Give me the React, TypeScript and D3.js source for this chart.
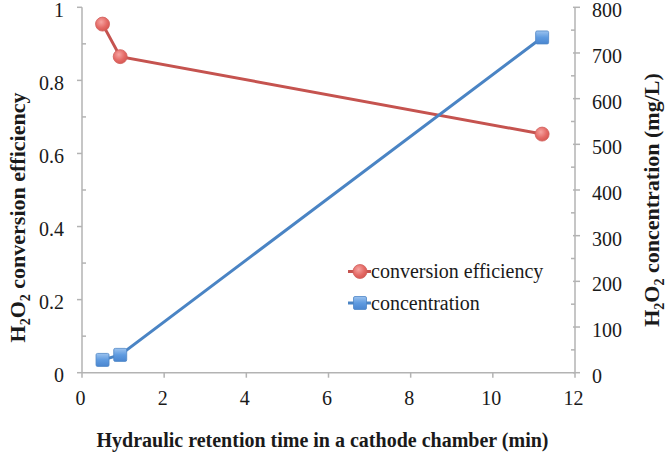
import * as d3 from "d3";

const hrt = [0.5, 0.93, 11.2];
const efficiency = [0.954, 0.865, 0.653];
const concentration = [28, 39, 734];

const leftTicks = [0, 0.2, 0.4, 0.6, 0.8, 1];
const leftMinor = [0.1, 0.3, 0.5, 0.7, 0.9];
const rightTicks = [0, 100, 200, 300, 400, 500, 600, 700, 800];
const rightMinor = [50, 150, 250, 350, 450, 550, 650, 750];
const xTicks = [0, 2, 4, 6, 8, 10, 12];

const seriesNames = ["conversion efficiency", "concentration"];

const W = 666;
const H = 457;
const font = "Liberation Serif";
const axisColor = "#b3b3b3";
const redLine = "#c5534f";
const blueLine = "#4a84c4";

export default function App() {
  const x = d3.scaleLinear().domain([0, 12]).range([82, 575]);
  const yL = d3.scaleLinear().domain([0, 1]).range([372.7, 7.3]);
  const yR = d3.scaleLinear().domain([0, 800]).range([372.7, 7.3]);

  const effData = hrt.map((h, i) => [h, efficiency[i]] as [number, number]);
  const concData = hrt.map((h, i) => [h, concentration[i]] as [number, number]);

  const effLine = d3.line<[number, number]>().x(d => x(d[0])).y(d => yL(d[1]));
  const concLine = d3.line<[number, number]>().x(d => x(d[0])).y(d => yR(d[1]));

  const x0 = x.range()[0];
  const x1 = x.range()[1];
  const yBase = yL.range()[0];

  const circle = (cx: number, cy: number, key: string) => (
    <circle key={key} cx={cx} cy={cy} r={7} fill="url(#redGrad)" stroke="#d0605c" strokeWidth={0.8} />
  );
  const square = (cx: number, cy: number, key: string) => (
    <rect key={key} x={cx - 6.5} y={cy - 6.5} width={13} height={13} rx={1.5} fill="url(#blueGrad)" stroke="#4f86c6" strokeWidth={0.8} />
  );

  const txt = { fontFamily: font, fill: "#1a1a1a" };
  const reg = { ...txt, fontWeight: 400, fontSize: 20 };

  return (
    <svg width={W} height={H} style={{ position: "absolute", left: 0, top: 0, background: "#fff" }}>
      <defs>
        <radialGradient id="redGrad" cx="40%" cy="35%" r="70%">
          <stop offset="0%" stopColor="#f6a4a1" />
          <stop offset="60%" stopColor="#e46a66" />
          <stop offset="100%" stopColor="#d4554f" />
        </radialGradient>
        <linearGradient id="blueGrad" x1="0" y1="0" x2="0" y2="1">
          <stop offset="0%" stopColor="#9cc3ef" />
          <stop offset="50%" stopColor="#5f9be0" />
          <stop offset="100%" stopColor="#4a86d0" />
        </linearGradient>
      </defs>

      {/* axes */}
      <g stroke={axisColor} strokeWidth={1.5}>
        <line x1={x0} x2={x0} y1={yL.range()[1]} y2={yBase} />
        <line x1={x1} x2={x1} y1={yR.range()[1]} y2={yBase} />
        <line x1={x0} x2={x1} y1={yBase} y2={yBase} />
        {leftTicks.map(t => (
          <line key={"lt" + t} x1={x0 - 5} x2={x0} y1={yL(t)} y2={yL(t)} />
        ))}
        {leftMinor.map(t => (
          <line key={"lm" + t} x1={x0} x2={x0 + 4} y1={yL(t)} y2={yL(t)} />
        ))}
        {rightTicks.map(t => (
          <line key={"rt" + t} x1={x1 - 2} x2={x1 + 5} y1={yR(t)} y2={yR(t)} />
        ))}
        {rightMinor.map(t => (
          <line key={"rm" + t} x1={x1 - 4} x2={x1} y1={yR(t)} y2={yR(t)} />
        ))}
        {xTicks.map(t => (
          <line key={"xt" + t} x1={x(t)} x2={x(t)} y1={yBase} y2={yBase + 5} />
        ))}
      </g>

      {/* tick labels */}
      {leftTicks.map(t => (
        <text key={"ll" + t} {...reg} x={64} y={yL(t) + 9.5} textAnchor="end">
          {d3.format("~g")(t)}
        </text>
      ))}
      {rightTicks.map(t => (
        <text key={"rl" + t} {...reg} x={592} y={yR(t) + 10} textAnchor="start">
          {t}
        </text>
      ))}
      {xTicks.map(t => (
        <text key={"xl" + t} {...reg} x={x(t) - 1.5} y={405} textAnchor="middle">
          {t}
        </text>
      ))}

      {/* series */}
      <path d={effLine(effData) ?? ""} fill="none" stroke={redLine} strokeWidth={3} />
      <path d={concLine(concData) ?? ""} fill="none" stroke={blueLine} strokeWidth={3} />
      {effData.map((d, i) => circle(x(d[0]), yL(d[1]), "c" + i))}
      {concData.map((d, i) => square(x(d[0]), yR(d[1]), "s" + i))}

      {/* legend */}
      <line x1={348} x2={371} y1={271.5} y2={271.5} stroke={redLine} strokeWidth={3} />
      {circle(360, 271.5, "lc")}
      <text {...reg} x={371} y={278}>{seriesNames[0]}</text>
      <line x1={348} x2={371} y1={303} y2={303} stroke={blueLine} strokeWidth={3} />
      {square(360, 303, "ls")}
      <text {...reg} x={371} y={309.5}>{seriesNames[1]}</text>

      {/* axis titles */}
      <text {...txt} fontSize={20} fontWeight="bold" x={322.5} y={447} textAnchor="middle">
        Hydraulic retention time in a cathode chamber (min)
      </text>
      <text {...txt} fontSize={22} fontWeight="bold" transform="translate(25,217.5) rotate(-90)" textAnchor="middle">
        H<tspan fontSize={14} dy={5}>2</tspan>
        <tspan dy={-5}>O</tspan>
        <tspan fontSize={14} dy={5}>2</tspan>
        <tspan dy={-5}> conversion efficiency</tspan>
      </text>
      <text {...txt} fontSize={22} fontWeight="bold" transform="translate(659,200) rotate(-90)" textAnchor="middle">
        H<tspan fontSize={14} dy={5}>2</tspan>
        <tspan dy={-5}>O</tspan>
        <tspan fontSize={14} dy={5}>2</tspan>
        <tspan dy={-5}> concentration (mg/L)</tspan>
      </text>
    </svg>
  );
}
